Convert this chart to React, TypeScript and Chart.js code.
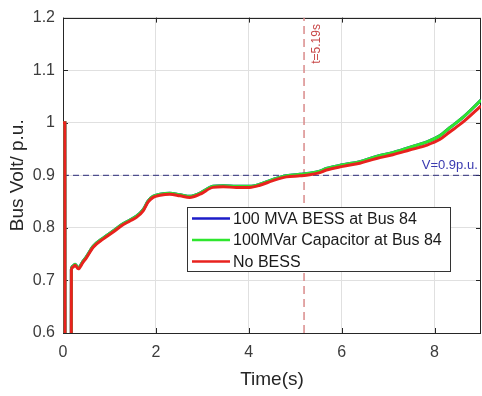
import React, { useEffect, useRef } from "react";
import { Chart, registerables } from "chart.js";

Chart.register(...registerables);

const TIME = [0, 0.04, 0.045, 0.175, 0.18, 0.21, 0.26, 0.33, 0.42, 0.51, 0.65, 0.87, 1.08, 1.26, 1.44, 1.58, 1.73, 1.83, 1.94, 2.09, 2.3, 2.52, 2.73, 2.95, 3.23, 3.45, 3.73, 4.02, 4.24, 4.52, 4.81, 5.1, 5.31, 5.53, 5.67, 6.03, 6.39, 6.75, 7.1, 7.46, 7.82, 8.11, 8.32, 8.61, 9.0];
const NO_BESS = [1.0, 1.0, 0.3, 0.3, 0.72, 0.725, 0.729, 0.722, 0.733, 0.744, 0.763, 0.779, 0.792, 0.804, 0.813, 0.82, 0.833, 0.849, 0.858, 0.862, 0.864, 0.861, 0.858, 0.864, 0.877, 0.878, 0.877, 0.877, 0.881, 0.89, 0.897, 0.899, 0.901, 0.905, 0.91, 0.917, 0.923, 0.932, 0.939, 0.948, 0.957, 0.968, 0.982, 1.001, 1.032];
const CAPACITOR = [1.0, 1.0, 0.3, 0.3, 0.721, 0.727, 0.731, 0.724, 0.735, 0.746, 0.765, 0.781, 0.794, 0.806, 0.815, 0.822, 0.835, 0.851, 0.860, 0.864, 0.866, 0.863, 0.860, 0.866, 0.879, 0.880, 0.879, 0.879, 0.883, 0.892, 0.899, 0.902, 0.904, 0.908, 0.913, 0.920, 0.926, 0.936, 0.943, 0.953, 0.963, 0.975, 0.990, 1.010, 1.043];
const BESS = [1.0, 1.0, 0.3, 0.3, 0.721, 0.727, 0.731, 0.724, 0.735, 0.746, 0.765, 0.781, 0.794, 0.806, 0.815, 0.822, 0.835, 0.851, 0.860, 0.864, 0.866, 0.863, 0.860, 0.866, 0.879, 0.880, 0.879, 0.879, 0.883, 0.892, 0.899, 0.902, 0.904, 0.908, 0.913, 0.920, 0.926, 0.936, 0.943, 0.953, 0.963, 0.975, 0.990, 1.010, 1.043];

const SERIES_LABELS = ["100 MVA BESS at Bus 84", "100MVar Capacitor at Bus 84", "No BESS"];
const SERIES_COLORS = ["#1c1cc8", "#2ee62e", "#e8221e"];

const X_TICKS = [0, 2, 4, 6, 8];
const Y_TICKS = [0.6, 0.7, 0.8, 0.9, 1.0, 1.1, 1.2];

const V_LIMIT = 0.9;
const T_EVENT = 5.19;
const V_LABEL = "V=0.9p.u.";
const T_LABEL = "t=5.19s";
const V_LABEL_POS = [8.93, 0.918];
const T_LABEL_POS = [5.46, 1.15];

const FONT = "'Liberation Sans', Arial, sans-serif";

function pts(ys: number[]) {
  return TIME.map((t, i) => ({ x: t, y: ys[i] }));
}

const overlayPlugin = {
  id: "overlay",
  beforeDatasetsDraw(chart: any) {
    const { ctx, chartArea: a, scales } = chart;
    const xs = scales.x, ys = scales.y;
    ctx.save();
    ctx.strokeStyle = "#262626";
    ctx.lineWidth = 1;
    ctx.beginPath();
    const tl = 5;
    X_TICKS.forEach((v) => {
      const px = Math.round(xs.getPixelForValue(v)) + 0.5;
      ctx.moveTo(px, a.bottom);
      ctx.lineTo(px, a.bottom - tl);
      ctx.moveTo(px, a.top);
      ctx.lineTo(px, a.top + tl);
    });
    Y_TICKS.forEach((v) => {
      const py = Math.round(ys.getPixelForValue(v)) + 0.5;
      ctx.moveTo(a.left, py);
      ctx.lineTo(a.left + tl, py);
      ctx.moveTo(a.right, py);
      ctx.lineTo(a.right - tl, py);
    });
    ctx.stroke();
    ctx.beginPath();
    ctx.rect(Math.round(a.left) + 0.5, Math.round(a.top) + 0.5, Math.round(a.right - a.left) - 1, Math.round(a.bottom - a.top));
    ctx.stroke();
    ctx.restore();
  },
  afterDatasetsDraw(chart: any) {
    const { ctx, scales } = chart;
    const xs = scales.x, ys = scales.y;
    ctx.save();
    ctx.font = `13px ${FONT}`;
    ctx.fillStyle = "#3a3ab0";
    ctx.textAlign = "right";
    ctx.textBaseline = "middle";
    ctx.fillText(V_LABEL, xs.getPixelForValue(V_LABEL_POS[0]), ys.getPixelForValue(V_LABEL_POS[1]));
    ctx.translate(xs.getPixelForValue(T_LABEL_POS[0]), ys.getPixelForValue(T_LABEL_POS[1]));
    ctx.rotate(-Math.PI / 2);
    ctx.font = `12px ${FONT}`;
    ctx.fillStyle = "#c84848";
    ctx.textAlign = "center";
    ctx.fillText(T_LABEL, 0, 0);
    ctx.restore();

    ctx.save();
    const lx = 187, ly = 207, lw = 263, lh = 64;
    ctx.fillStyle = "#ffffff";
    ctx.fillRect(lx, ly, lw, lh);
    ctx.strokeStyle = "#333333";
    ctx.lineWidth = 1;
    ctx.strokeRect(lx + 0.5, ly + 0.5, lw, lh);
    ctx.font = `16px ${FONT}`;
    ctx.textAlign = "left";
    ctx.textBaseline = "middle";
    SERIES_LABELS.forEach((lab, i) => {
      const y = ly + 11.5 + i * 21.5;
      ctx.strokeStyle = SERIES_COLORS[i];
      ctx.lineWidth = 2.5;
      ctx.beginPath();
      ctx.moveTo(lx + 5, y);
      ctx.lineTo(lx + 43, y);
      ctx.stroke();
      ctx.fillStyle = "#1a1a1a";
      ctx.fillText(lab, lx + 46, y + 1);
    });
    ctx.restore();
  },
};

export default function App() {
  const ref = useRef<HTMLCanvasElement | null>(null);
  useEffect(() => {
    if (!ref.current) return;
    const seriesData = [BESS, CAPACITOR, NO_BESS];
    const orders = [3, 2, 1];
    const datasets: any[] = seriesData.map((d, i) => ({
      label: SERIES_LABELS[i],
      data: pts(d),
      borderColor: SERIES_COLORS[i],
      borderWidth: 3,
      pointRadius: 0,
      cubicInterpolationMode: "monotone",
      fill: false,
      order: orders[i],
    }));
    datasets.push({
      label: "limit",
      data: [{ x: 0, y: V_LIMIT }, { x: 9, y: V_LIMIT }],
      borderColor: "#2a2a7a",
      borderWidth: 1,
      borderDash: [6, 4],
      pointRadius: 0,
      order: 4,
    });
    datasets.push({
      label: "event",
      data: [{ x: T_EVENT, y: 0.6 }, { x: T_EVENT, y: 1.2 }],
      borderColor: "#d98a8a",
      borderWidth: 1.5,
      borderDash: [8, 5],
      pointRadius: 0,
      order: 5,
    });
    const chart = new Chart(ref.current, {
      type: "line",
      data: { datasets },
      options: {
        animation: false,
        responsive: false,
        devicePixelRatio: 1,
        layout: { padding: { top: 16, right: 1, left: 0, bottom: 0 } },
        plugins: { legend: { display: false }, tooltip: { enabled: false } },
        scales: {
          x: {
            type: "linear",
            min: 0,
            max: 9,
            afterFit: (s: any) => { s.height = 63; },
            afterBuildTicks: (s: any) => { s.ticks = X_TICKS.map((v) => ({ value: v })); },
            ticks: { padding: 10, color: "#3c3c3c", font: { family: FONT, size: 16 } },
            grid: { color: "#e0e0e0", drawTicks: false, lineWidth: 1 },
            border: { display: false },
            title: { display: true, text: "Time(s)", color: "#262626", font: { family: FONT, size: 19 }, padding: { top: 0, bottom: 5 } },
          },
          y: {
            type: "linear",
            min: 0.6,
            max: 1.2,
            afterFit: (s: any) => { s.width = 63; },
            afterBuildTicks: (s: any) => { s.ticks = Y_TICKS.map((v) => ({ value: v })); },
            ticks: {
              padding: 8,
              color: "#3c3c3c",
              font: { family: FONT, size: 16 },
              callback: (v: any) => String(Number(Number(v).toFixed(1))),
            },
            grid: { color: "#e0e0e0", drawTicks: false, lineWidth: 1 },
            border: { display: false },
            title: { display: true, text: "Bus Volt/ p.u.", color: "#262626", font: { family: FONT, size: 19 }, padding: { top: 6, bottom: 0 } },
          },
        },
      },
      plugins: [overlayPlugin],
    });
    return () => chart.destroy();
  }, []);
  return (
    <div style={{ position: "fixed", left: 0, top: 0, width: 482, height: 396, background: "#fff" }}>
      <canvas ref={ref} width={482} height={396} />
    </div>
  );
}
